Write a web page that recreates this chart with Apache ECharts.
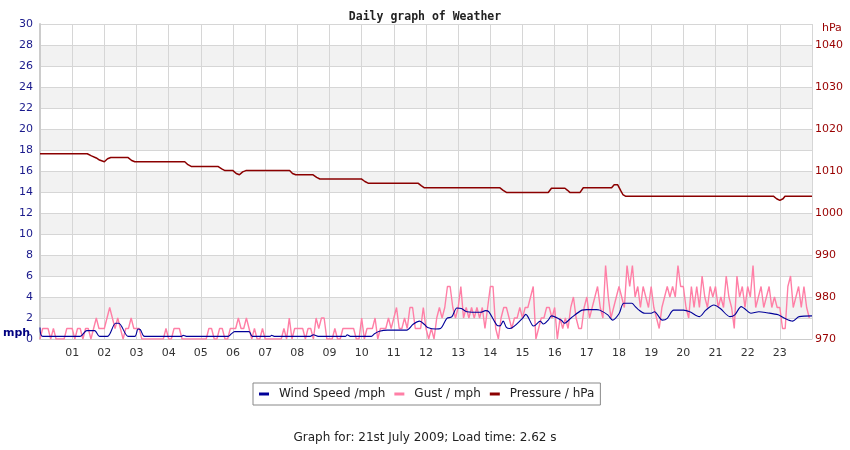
<!DOCTYPE html>
<html>
<head>
<meta charset="utf-8">
<script src="https://cdn.jsdelivr.net/npm/echarts@6/dist/echarts.min.js"></script>
<style>
html, body { margin: 0; padding: 0; background: #fff; }
#chart { width: 850px; height: 450px; }
</style>
</head>
<body>
<div id="chart"></div>
<script>
// hour labels along the bottom
var hourLabels = ['01','02','03','04','05','06','07','08','09','10','11','12',
                  '13','14','15','16','17','18','19','20','21','22','23'];

// wind speed (mph), read at the bends of the line
var windTime = [0,0.08,1.25,1.45,1.7,1.85,2.1,2.35,2.45,2.74,2.95,3.05,3.12,3.25,
  4.4,4.45,4.55,5.85,5.95,6.05,6.5,6.6,7.15,7.2,7.28,8.4,8.5,8.65,9.5,9.55,9.65,
  10.3,10.4,10.55,10.8,11.4,11.6,11.8,11.97,12.05,12.3,12.45,12.65,12.8,12.96,13.1,
  13.27,13.7,13.85,13.95,14.2,14.3,14.4,14.5,14.6,15.0,15.1,15.3,15.35,15.55,15.65,
  15.8,15.9,16.2,16.3,16.5,16.85,17.0,17.3,17.4,17.65,17.8,18.0,18.15,18.4,18.5,
  18.6,18.8,19.0,19.1,19.35,19.5,19.7,20.0,20.2,20.5,20.7,20.95,21.15,21.45,21.6,
  21.8,21.9,22.1,22.35,22.6,22.95,23.15,23.4,23.6,24];
var windSpeed = [1.1,0.25,0.25,0.8,0.8,0.25,0.25,1.5,1.5,0.25,0.25,0.95,0.9,0.25,
  0.25,0.35,0.25,0.25,0.5,0.7,0.7,0.25,0.25,0.35,0.25,0.25,0.4,0.25,0.25,0.4,0.25,
  0.25,0.5,0.73,0.85,0.85,1.4,1.7,1.33,1.1,0.95,1.0,1.97,2.1,2.95,2.9,
  2.6,2.55,2.7,2.6,1.33,1.25,1.7,1.1,1.0,1.97,2.35,1.33,1.24,1.7,1.43,
  1.8,2.2,1.8,1.5,1.97,2.75,2.8,2.8,2.75,2.3,1.8,2.4,3.4,3.4,3.1,
  2.8,2.45,2.45,2.6,1.8,1.97,2.75,2.75,2.6,2.13,2.75,3.24,2.9,2.13,2.3,
  3.08,2.9,2.45,2.6,2.5,2.3,1.97,1.7,2.13,2.2];

// gust (mph), one value every 5 minutes, 12 per hour
var gust = [
  0,1,1,1,0,1,0,0,0,0,1,1, // 00
  1,0,1,1,0,1,1,0,1,2,1,1, // 01
  1,2,3,2,1,2,1,0,1,1,2,1, // 02
  1,1,0,0,0,0,0,0,0,0,0,1, // 03
  0,0,1,1,1,0,0,0,0,0,0,0, // 04
  0,0,0,1,1,0,0,1,1,0,0,1, // 05
  1,1,2,1,1,2,1,0,1,0,0,1, // 06
  0,0,0,0,0,0,0,1,0,2,0,1, // 07
  1,1,1,0,1,1,0,2,1,2,2,0, // 08
  0,0,1,0,0,1,1,1,1,1,0,0, // 09
  2,0,1,1,1,2,0,1,1,1,2,1, // 10
  2,3,1,1,2,1,3,3,1,1,1,3, // 11
  1,0,1,0,2,3,2,3,5,5,3,2, // 12
  3,5,2,3,2,3,2,3,2,3,1,3, // 13
  5,5,1,0,2,3,3,2,1,2,2,3, // 14
  2,3,3,4,5,0,1,2,2,3,3,2, // 15
  3,0,2,1,2,1,3,4,2,1,1,3, // 16
  4,2,3,4,5,3,2,7,4,2,3,4, // 17
  5,4,3,7,5,7,4,5,3,5,4,3, // 18
  5,3,2,1,3,4,5,4,5,4,7,5, // 19
  5,3,2,5,3,5,3,6,4,3,5,4, // 20
  5,3,4,3,6,4,3,1,6,4,5,3, // 21
  5,4,7,3,4,5,3,4,5,3,4,3, // 22
  3,1,1,5,6,3,4,5,3,5,3,2  // 23
];

// pressure (hPa), read at the steps
var pressTime = [0,1.47,1.6,1.75,1.85,2.0,2.1,2.2,2.74,2.85,2.95,4.5,4.6,4.7,5.53,5.65,
  5.75,6.0,6.1,6.2,6.3,6.4,7.76,7.85,7.95,8.49,8.6,8.7,9.99,10.1,10.2,11.75,11.85,
  11.95,14.3,14.4,14.5,15.8,15.9,16.32,16.4,16.47,16.79,16.89,17.77,17.85,17.96,
  18.05,18.12,18.2,22.8,22.9,23.0,23.1,23.16,24];
var pressure = [1014.1,1014.1,1013.6,1013.1,1012.6,1012.2,1012.9,1013.2,1013.2,1012.5,
  1012.2,1012.2,1011.5,1011.1,1011.1,1010.5,1010.1,1010.1,1009.4,1009.1,1009.8,1010.1,
  1010.1,1009.4,1009.1,1009.1,1008.5,1008.1,1008.1,1007.5,1007.1,1007.1,1006.5,
  1006.0,1006.0,1005.4,1004.9,1004.9,1005.9,1005.9,1005.4,1004.9,1004.9,1006.0,
  1006.0,1006.7,1006.7,1005.4,1004.4,1004.0,1004.0,1003.4,1003.0,1003.4,1004.0,1004.0];

var windData = windTime.map(function (t, i) { return [t, windSpeed[i]]; });
var gustData = gust.map(function (v, i) { return [i / 12, v]; });
var pressData = pressTime.map(function (t, i) { return [t, pressure[i]]; });

var chart = echarts.init(document.getElementById('chart'));
chart.setOption({
  animation: false,
  backgroundColor: '#fff',
  title: {
    text: 'Daily graph of Weather',
    left: 'center',
    top: 6,
    textStyle: { fontFamily: 'DejaVu Sans Mono', fontSize: 11.5, fontWeight: 'bold', color: '#222' }
  },
  grid: { left: 40, right: 38, top: 24, bottom: 111 },
  legend: {
    left: 253,
    top: 383,
    icon: 'rect',
    itemWidth: 10,
    itemHeight: 3,
    itemGap: 9,
    borderColor: '#888',
    borderWidth: 1,
    padding: [5, 6, 5, 6],
    textStyle: { fontFamily: 'DejaVu Sans', fontSize: 12, color: '#222', padding: [0, 0, 0, 5] },
    data: ['Wind Speed /mph', 'Gust / mph', 'Pressure / hPa']
  },
  xAxis: {
    type: 'value',
    min: 0,
    max: 24,
    interval: 1,
    axisTick: { show: false },
    axisLine: { lineStyle: { color: '#ccc' } },
    axisLabel: {
      margin: 9,
      fontFamily: 'DejaVu Sans',
      fontSize: 11,
      color: '#333',
      formatter: function (v) { return (v > 0 && v < 24) ? hourLabels[v - 1] : ''; }
    },
    splitLine: { lineStyle: { color: '#d6d6d6' } }
  },
  yAxis: [
    {
      type: 'value',
      position: 'left',
      min: 0,
      max: 30,
      interval: 2,
      axisLine: { show: true, lineStyle: { color: '#ccc', width: 2 } },
      axisTick: { show: false },
      axisLabel: { margin: 7, fontFamily: 'DejaVu Sans', fontSize: 11, color: '#1a1a8c' },
      splitLine: { lineStyle: { color: '#d6d6d6' } },
      splitArea: { show: true, areaStyle: { color: ['#ffffff', '#f2f2f2'] } }
    },
    {
      type: 'value',
      position: 'right',
      min: 970,
      max: 1045,
      interval: 10,
      axisLine: { show: false },
      axisTick: { show: false },
      axisLabel: {
        margin: 3, fontFamily: 'DejaVu Sans', fontSize: 11, color: '#990000',
        formatter: function (v) { return v > 1040 ? '' : v; }
      },
      splitLine: { show: false }
    }
  ],
  graphic: [
    { type: 'text', left: 3, top: 328, style: { text: 'mph', fill: '#000080', font: 'bold 11px DejaVu Sans' } },
    { type: 'text', left: 822, top: 23, style: { text: 'hPa', fill: '#990000', font: '11px DejaVu Sans' } },
    { type: 'text', left: 'center', top: 432, style: { text: 'Graph for: 21st July 2009; Load time: 2.62 s', fill: '#222', font: '12px DejaVu Sans' } }
  ],
  series: [
    {
      name: 'Wind Speed /mph',
      type: 'line',
      data: windData,
      showSymbol: false,
      smooth: 0.3,
      z: 5,
      lineStyle: { color: '#000099', width: 1.1 },
      itemStyle: { color: '#000099' }
    },
    {
      name: 'Gust / mph',
      type: 'line',
      data: gustData,
      showSymbol: false,
      z: 4,
      lineStyle: { color: '#ff7fa6', width: 1.4 },
      itemStyle: { color: '#ff7fa6' }
    },
    {
      name: 'Pressure / hPa',
      type: 'line',
      yAxisIndex: 1,
      data: pressData,
      showSymbol: false,
      z: 3,
      lineStyle: { color: '#8b0000', width: 1.5 },
      itemStyle: { color: '#8b0000' }
    }
  ]
});
</script>
</body>
</html>
